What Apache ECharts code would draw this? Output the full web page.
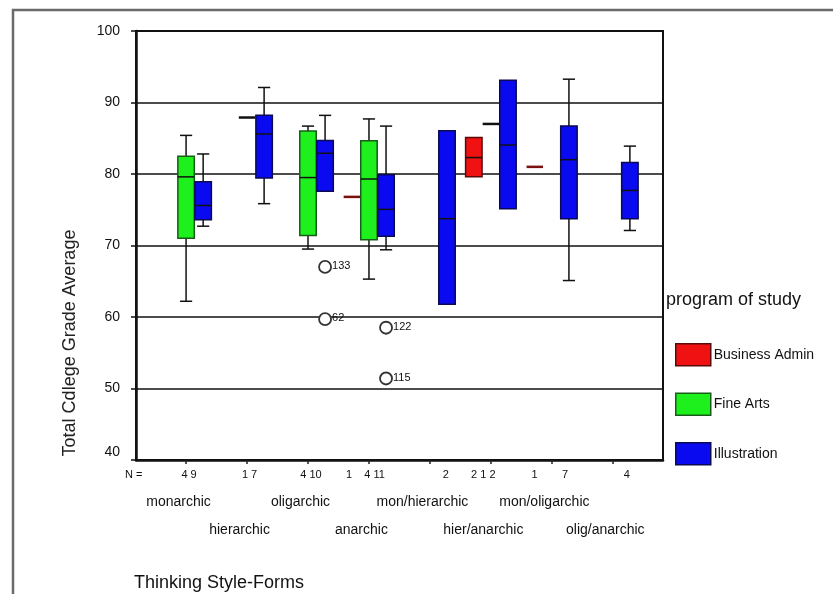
<!DOCTYPE html>
<html><head><meta charset="utf-8">
<script src="https://cdn.jsdelivr.net/npm/echarts/dist/echarts.min.js"></script>
<style>html,body{margin:0;padding:0;background:#fff}#c{width:833px;height:594px}</style>
</head><body><div id="c"></div>
<script>
// ---- data ----
const categories = ['monarchic', 'hierarchic', 'oligarchic', 'anarchic', 'mon/hierarchic', 'hier/anarchic', 'mon/oligarchic', 'olig/anarchic'];
const nLabels = ['4 9', '1 7', '4 10', '1    4 11', '2', '2 1 2', '1        7', '4'];
const programs = ['Business Admin', 'Fine Arts', 'Illustration'];
const yTicks = [40, 50, 60, 70, 80, 90, 100];
// box stats: [categoryIndex, min, q1, median, q3, max]
const businessAdminBoxes = [[5, 79.6, 79.6, 82.3, 85.1, 85.1]];
const businessAdminSingles = [[3, 76.8], [6, 81.0]];
const fineArtsBoxes = [
  [0, 62.2, 71.0, 79.6, 82.5, 85.4],
  [2, 69.5, 71.4, 79.5, 86.0, 86.7],
  [3, 65.3, 70.8, 79.3, 84.65, 87.7]
];
const fineArtsSingles = [[1, 87.9], [5, 87.0]];
const illustrationBoxes = [
  [0, 72.7, 73.6, 75.6, 78.9, 82.8],
  [1, 75.85, 79.45, 85.6, 88.2, 92.1],
  [2, 77.6, 77.6, 82.9, 84.7, 88.2],
  [3, 69.4, 71.3, 75.05, 79.9, 86.7],
  [4, 61.8, 61.8, 73.75, 86.05, 86.05],
  [5, 75.15, 75.15, 84.05, 93.1, 93.1],
  [6, 65.1, 73.75, 82.0, 86.7, 93.26],
  [7, 72.1, 73.75, 77.7, 81.6, 83.9]
];
const outlierCats = [2, 2, 3, 3];
const outlierValues = [67.0, 59.7, 58.5, 51.4];
const outlierLabels = ['133', '62', '122', '115'];

// ---- styling ----
const FONT = "'Liberation Sans', Arial, sans-serif";
const COLORS = {
  'Business Admin': {fill: '#f01212', stroke: '#5a0a0a', single: '#7a1010'},
  'Fine Arts': {fill: '#1ef01e', stroke: '#175c17', single: '#111'},
  'Illustration': {fill: '#0a0af0', stroke: '#0a0a55', single: '#111'}
};
const OFFSET = {'Business Admin': -0.28, 'Fine Arts': 0, 'Illustration': 0.28};
const BOX_FRAC = 0.27, CAP_FRAC = 0.2;
const nShift = [3, 2.5, 3, -3.5, 16, -7.6, -2, 14];

function boxRenderer(prog) {
  const c = COLORS[prog], off = OFFSET[prog];
  return function (params, api) {
    const cat = api.value(0);
    const band = api.size([1, 0])[0];
    const cx = api.coord([cat, 40])[0] + off * band;
    const w = BOX_FRAC * band, cap = CAP_FRAC * band;
    const y = i => api.coord([cat, api.value(i)])[1];
    const yMin = y(1), yQ1 = y(2), yMed = y(3), yQ3 = y(4), yMax = y(5);
    const ls = {stroke: '#111', lineWidth: 1.5};
    const ch = [];
    if (yMax < yQ3 - 0.5) {
      ch.push({type: 'line', shape: {x1: cx, y1: yQ3, x2: cx, y2: yMax}, style: ls});
      ch.push({type: 'line', shape: {x1: cx - cap / 2, y1: yMax, x2: cx + cap / 2, y2: yMax}, style: ls});
    }
    if (yMin > yQ1 + 0.5) {
      ch.push({type: 'line', shape: {x1: cx, y1: yQ1, x2: cx, y2: yMin}, style: ls});
      ch.push({type: 'line', shape: {x1: cx - cap / 2, y1: yMin, x2: cx + cap / 2, y2: yMin}, style: ls});
    }
    ch.push({type: 'rect', shape: {x: cx - w / 2, y: yQ3, width: w, height: yQ1 - yQ3}, style: {fill: c.fill, stroke: c.stroke, lineWidth: 1.5}});
    ch.push({type: 'line', shape: {x1: cx - w / 2, y1: yMed, x2: cx + w / 2, y2: yMed}, style: {stroke: '#111', lineWidth: 1.5}});
    return {type: 'group', children: ch};
  };
}
function singleRenderer(prog) {
  const c = COLORS[prog], off = OFFSET[prog];
  return function (params, api) {
    const cat = api.value(0);
    const band = api.size([1, 0])[0];
    const p = api.coord([cat, api.value(1)]);
    const cx = p[0] + off * band, w = BOX_FRAC * band;
    return {type: 'line', shape: {x1: cx - w / 2, y1: p[1], x2: cx + w / 2, y2: p[1]}, style: {stroke: c.single, lineWidth: 2.5}};
  };
}
function outlierRenderer(params, api) {
  const cat = api.value(0);
  const band = api.size([1, 0])[0];
  const p = api.coord([cat, api.value(1)]);
  const cx = p[0] + OFFSET['Illustration'] * band;
  return {type: 'group', children: [
    {type: 'circle', shape: {cx: cx, cy: p[1], r: 6}, style: {fill: '#fff', stroke: '#333', lineWidth: 1.8}},
    {type: 'text', style: {x: cx + 7, y: p[1] - 1, text: outlierLabels[params.dataIndex], font: '11px ' + FONT, fill: '#111', textVerticalAlign: 'middle'}}
  ]};
}

const boxSets = {'Business Admin': businessAdminBoxes, 'Fine Arts': fineArtsBoxes, 'Illustration': illustrationBoxes};
const singleSets = {'Business Admin': businessAdminSingles, 'Fine Arts': fineArtsSingles, 'Illustration': []};

const series = [];
programs.forEach(prog => {
  series.push({
    type: 'custom', name: prog, xAxisIndex: 1, yAxisIndex: 1, clip: false, z: 3,
    renderItem: boxRenderer(prog), data: boxSets[prog], encode: {x: 0, y: [1, 2, 3, 4, 5]},
    itemStyle: {color: COLORS[prog].fill, borderColor: COLORS[prog].stroke}
  });
  if (singleSets[prog].length) series.push({
    type: 'custom', name: prog, xAxisIndex: 1, yAxisIndex: 1, clip: false, z: 3,
    renderItem: singleRenderer(prog), data: singleSets[prog], encode: {x: 0, y: 1},
    itemStyle: {color: COLORS[prog].fill, borderColor: COLORS[prog].stroke}
  });
});
series.push({
  type: 'custom', name: 'outliers', xAxisIndex: 1, yAxisIndex: 1, clip: false, z: 4,
  renderItem: outlierRenderer, data: outlierCats.map((c, i) => [c, outlierValues[i]]), encode: {x: 0, y: 1}
});

const nRich = {};
nShift.forEach((s, i) => {
  nRich['n' + i] = {fontSize: 11, fontFamily: FONT, color: '#111', lineHeight: 20, align: 'center',
    padding: s >= 0 ? [0, 0, 0, 2 * s] : [0, -2 * s, 0, 0]};
});
nRich.c1 = {fontSize: 14, fontFamily: FONT, color: '#111', lineHeight: 33.4, align: 'center', padding: [0, 15, 0, 0]};
nRich.c2 = {fontSize: 14, fontFamily: FONT, color: '#111', lineHeight: 40, align: 'center', padding: [0, 15, 0, 0]};
nRich.gap = {fontSize: 10, lineHeight: 25, align: 'center'};

const chart = echarts.init(document.getElementById('c'), null, {renderer: 'canvas'});
chart.setOption({
  animation: false,
  backgroundColor: '#fff',
  textStyle: {fontFamily: FONT},
  title: [
    {text: 'program of study', left: 666, top: 291, padding: 0, textStyle: {fontSize: 18, fontWeight: 'normal', color: '#111', fontFamily: FONT}},
    {text: 'Thinking Style-Forms', left: 134, top: 574, padding: 0, textStyle: {fontSize: 18, fontWeight: 'normal', color: '#111', fontFamily: FONT}}
  ],
  legend: {
    orient: 'vertical', left: 675, top: 343, padding: 0, icon: 'rect',
    itemWidth: 35, itemHeight: 22, itemGap: 26, selectedMode: false,
    textStyle: {fontSize: 14, color: '#111', fontFamily: FONT, padding: [0, 0, 0, -2]},
    data: programs.map(p => ({name: p, itemStyle: {color: COLORS[p].fill, borderColor: COLORS[p].stroke, borderWidth: 1.5}}))
  },
  graphic: [
    {type: 'rect', z: -10, shape: {x: 13, y: 10, width: 900, height: 700}, style: {fill: 'none', stroke: '#6a6a6a', lineWidth: 2.5}},
    {type: 'text', x: 70, y: 343, rotation: Math.PI / 2, style: {text: 'Total Cdlege Grade Average', font: '18px ' + FONT, fill: '#222', textAlign: 'center', textVerticalAlign: 'middle'}},
    {type: 'text', x: 125, y: 475, style: {text: 'N =', font: '11px ' + FONT, fill: '#111', textVerticalAlign: 'middle'}}
  ],
  grid: [
    {left: 136, right: 170, top: 31, bottom: 134, show: true, borderColor: '#111', borderWidth: 2, backgroundColor: 'transparent', containLabel: false, outerBoundsMode: 'none'},
    {left: 155.6, right: 189.7, top: 31, bottom: 134, show: false, containLabel: false, outerBoundsMode: 'none'}
  ],
  xAxis: [
    {gridIndex: 0, type: 'value', min: 0, max: 1, axisLine: {show: true, lineStyle: {color: '#111', width: 2.5}}, axisTick: {show: false}, axisLabel: {show: false}, splitLine: {show: false}},
    {gridIndex: 1, type: 'category', data: categories, boundaryGap: true,
      axisLine: {show: false}, axisTick: {show: true, alignWithLabel: true, length: 4, lineStyle: {color: '#222', width: 1.5}},
      axisLabel: {interval: 0, margin: 5, hideOverlap: false, color: '#111',
        formatter: (v, i) => i % 2 === 0 ? '{n' + i + '|' + nLabels[i] + '}\n{c1|' + v + '}' : '{n' + i + '|' + nLabels[i] + '}\n{gap| }\n{c2|' + v + '}',
        rich: nRich},
      splitLine: {show: false}}
  ],
  yAxis: [
    {gridIndex: 0, type: 'value', min: yTicks[0], max: yTicks[yTicks.length - 1], interval: 10,
      axisLine: {show: true, lineStyle: {color: '#111', width: 2.5}},
      axisTick: {show: true, length: 5, lineStyle: {color: '#111', width: 1.5}},
      axisLabel: {margin: 16, fontSize: 14, color: '#111', fontFamily: FONT,
        formatter: v => v === yTicks[0] ? '{b|' + v + '}' : '' + v,
        rich: {b: {fontSize: 14, fontFamily: FONT, color: '#111', padding: [0, 0, 16, 0]}}},
      splitLine: {show: true, lineStyle: {color: '#111', width: 1.5}}},
    {gridIndex: 1, type: 'value', min: yTicks[0], max: yTicks[yTicks.length - 1], interval: 10, show: false, splitLine: {show: false}}
  ],
  series: series
});
</script></body></html>
